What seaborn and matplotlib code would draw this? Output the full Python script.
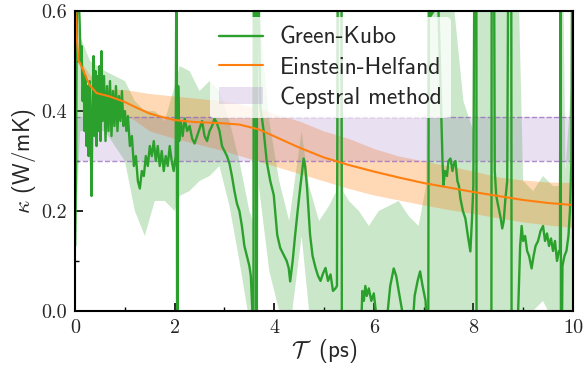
import pandas as pd
import seaborn as sns
import matplotlib.pyplot as plt
from matplotlib.ticker import MultipleLocator

# Green-Kubo running integral (ps, W/mK); +-0.9/-0.3 = off scale
gk_t = [
    0.00, 0.02, 0.035, 0.06, 0.09, 0.11, 0.13, 0.15, 0.17, 0.19,
    0.21, 0.23, 0.25, 0.27, 0.29, 0.31, 0.33, 0.35, 0.37, 0.39,
    0.41, 0.43, 0.45, 0.47, 0.49, 0.51, 0.53, 0.55, 0.58, 0.61,
    0.64, 0.67, 0.70, 0.73, 0.76, 0.79, 0.82, 0.85, 0.88, 0.91,
    0.94, 0.97, 1.00, 1.03, 1.06, 1.10, 1.14, 1.18, 1.22, 1.26,
    1.30, 1.34, 1.38, 1.42, 1.46, 1.50, 1.54, 1.58, 1.62, 1.66,
    1.70, 1.74, 1.78, 1.82, 1.86, 1.90, 1.94, 1.98, 2.02, 2.04,
    2.05, 2.07, 2.09, 2.12, 2.16, 2.20, 2.25, 2.30, 2.35, 2.40,
    2.45, 2.50, 2.55, 2.60, 2.65, 2.70, 2.75, 2.80, 2.85, 2.90,
    2.95, 3.00, 3.05, 3.10, 3.15, 3.20, 3.25, 3.30, 3.35, 3.40,
    3.45, 3.50, 3.53, 3.56, 3.58, 3.59, 3.63, 3.64, 3.66, 3.69,
    3.72, 3.79, 3.85, 3.92, 3.99, 4.06, 4.12, 4.19, 4.25, 4.29,
    4.32, 4.37, 4.42, 4.47, 4.52, 4.59, 4.62, 4.66, 4.72, 4.77,
    4.83, 4.88, 4.93, 4.98, 5.03, 5.08, 5.13, 5.18, 5.23, 5.26,
    5.28, 5.35, 5.36, 5.74, 5.77, 5.80, 5.83, 5.86, 5.90, 5.95,
    6.00, 6.04, 6.07, 6.22, 6.28, 6.33, 6.40, 6.45, 6.50, 6.57,
    6.60, 6.78, 6.82, 6.88, 6.93, 6.98, 7.04, 7.07, 7.09, 7.11,
    7.14, 7.20, 7.24, 7.30, 7.34, 7.38, 7.40, 7.43, 7.47, 7.50,
    7.54, 7.58, 7.61, 7.64, 7.68, 7.71, 7.74, 7.79, 7.84, 7.89,
    7.94, 7.97, 8.00, 8.03, 8.06, 8.065, 8.36, 8.37, 8.41, 8.43,
    8.46, 8.50, 8.55, 8.58, 8.61, 8.64, 8.68, 8.71, 8.76, 8.77,
    8.86, 8.90, 8.94, 8.97, 9.00, 9.04, 9.08, 9.12, 9.17, 9.21,
    9.25, 9.30, 9.35, 9.40, 9.44, 9.48, 9.52, 9.56, 9.60, 9.64,
    9.68, 9.72, 9.74, 9.755, 9.76, 9.79, 9.83, 9.87, 9.91, 9.94,
    9.97, 9.99, 10.0,
]
gk_kappa = [
    0.13, 0.30, 0.62, 0.66, 0.58, 0.50, 0.53, 0.42, 0.48, 0.36,
    0.47, 0.33, 0.45, 0.31, 0.46, 0.36, 0.23, 0.42, 0.51, 0.35,
    0.48, 0.33, 0.47, 0.36, 0.49, 0.34, 0.52, 0.38, 0.47, 0.34,
    0.45, 0.36, 0.46, 0.35, 0.44, 0.37, 0.45, 0.36, 0.43, 0.38,
    0.44, 0.37, 0.40, 0.36, 0.39, 0.33, 0.35, 0.29, 0.31, 0.26,
    0.245, 0.28, 0.27, 0.31, 0.29, 0.33, 0.31, 0.34, 0.30, 0.33,
    0.29, 0.32, 0.28, 0.31, 0.29, 0.33, 0.30, 0.28, 0.31, 0.9,
    -0.3, 0.45, 0.34, 0.38, 0.35, 0.385, 0.36, 0.37, 0.345, 0.335,
    0.35, 0.365, 0.38, 0.35, 0.34, 0.36, 0.37, 0.385, 0.375, 0.36,
    0.33, 0.32, 0.31, 0.295, 0.27, 0.24, 0.215, 0.20, 0.17, 0.13,
    0.11, 0.09, 0.07, 0.0, -0.3, 0.9, 0.9, -0.3, 0.9, 0.62,
    0.41, 0.358, 0.298, 0.26, 0.232, 0.152, 0.126, 0.112, 0.10, 0.086,
    0.059, 0.10, 0.152, 0.20, 0.245, 0.305, 0.29, 0.245, 0.152, 0.11,
    0.086, 0.07, 0.06, 0.075, 0.086, 0.06, 0.073, 0.04, 0.045, 0.05,
    0.9, 0.9, -0.3, -0.05, 0.04, 0.02, 0.05, 0.03, 0.045, 0.02,
    0.035, 0.0, -0.05, -0.05, 0.0, 0.05, 0.085, 0.07, 0.04, 0.0,
    -0.05, -0.03, 0.03, 0.06, 0.079, 0.05, 0.02, -0.05, -0.3, 0.9,
    0.59, 0.60, 0.62, 0.60, 0.45, 0.30, 0.252, 0.28, 0.27, 0.30,
    0.305, 0.28, 0.295, 0.30, 0.26, 0.25, 0.225, 0.20, 0.185, 0.15,
    0.119, 0.179, 0.25, 0.9, 0.9, -0.3, -0.3, 0.9, 0.9, 0.28,
    0.23, 0.21, 0.185, 0.165, 0.18, 0.22, 0.26, 0.9, 0.9, -0.3,
    -0.3, 0.0, 0.13, 0.17, 0.14, 0.15, 0.12, 0.11, 0.085, 0.11,
    0.13, 0.14, 0.16, 0.17, 0.14, 0.155, 0.13, 0.145, 0.12, 0.14,
    0.10, 0.12, 0.12, 0.9, -0.3, 0.09, 0.11, 0.12, 0.15, 0.20,
    0.30, 0.9, 0.9,
]

# Green-Kubo uncertainty band
gk_band_t = [
    0.0, 0.1, 0.3, 0.6, 1.0, 1.2, 1.4, 1.6, 1.8, 2.0,
    2.1, 2.3, 2.5, 2.7, 2.9, 3.1, 3.3, 3.5, 3.57, 3.59,
    3.66, 3.69, 3.9, 4.1, 4.3, 4.55, 4.7, 4.9, 5.1, 5.25,
    5.27, 5.36, 5.38, 5.5, 5.7, 5.9, 6.1, 6.3, 6.5, 6.7,
    6.9, 7.05, 7.1, 7.4, 7.6, 7.8, 8.0, 8.03, 8.2, 8.4,
    8.5, 8.6, 8.7, 8.85, 9.0, 9.2, 9.4, 9.6, 9.72, 9.74,
    9.78, 9.85, 10.0,
]
gk_hi = [
    0.6, 0.55, 0.50, 0.48, 0.46, 0.42, 0.40, 0.40, 0.38, 0.45,
    0.49, 0.48, 0.44, 0.46, 0.44, 0.38, 0.30, 0.20, 0.18, 0.9,
    0.9, 0.6, 0.38, 0.26, 0.18, 0.36, 0.25, 0.18, 0.21, 0.24,
    0.9, 0.9, 0.24, 0.22, 0.20, 0.17, 0.20, 0.21, 0.22, 0.19,
    0.17, 0.25, 0.9, 0.9, 0.62, 0.42, 0.36, 0.9, 0.9, 0.9,
    0.70, 0.60, 0.9, 0.9, 0.26, 0.24, 0.27, 0.25, 0.25, 0.9,
    0.9, 0.28, 0.5,
]
gk_lo = [
    0.13, 0.36, 0.36, 0.36, 0.30, 0.20, 0.15, 0.22, 0.22, 0.20,
    0.23, 0.24, 0.26, 0.27, 0.29, 0.21, 0.10, -0.02, -0.02, -0.3,
    -0.3, 0.25, 0.08, 0.0, -0.05, 0.15, 0.0, -0.05, -0.05, -0.05,
    -0.3, -0.3, -0.05, -0.05, -0.05, 0.0, -0.02, 0.0, -0.03, 0.0,
    -0.02, -0.05, -0.3, -0.1, -0.05, -0.05, -0.05, -0.3, -0.3, -0.3,
    -0.05, -0.05, -0.3, -0.3, -0.02, 0.0, 0.02, -0.02, -0.02, -0.3,
    -0.3, -0.05, -0.1,
]

# Einstein-Helfand estimate and band
eh_t = [0.0, 0.03, 0.07, 0.1, 0.16, 0.29, 0.43, 0.7, 1.0, 1.25,
        1.5, 1.75, 2.0, 2.4, 2.9, 3.3, 3.7, 4.1, 4.5, 5.0,
        5.5, 6.0, 6.5, 7.0, 7.5, 8.0, 8.5, 9.0, 9.5, 10.0]
eh_kappa = [0.62, 0.55, 0.50, 0.495, 0.482, 0.452, 0.436, 0.429, 0.418, 0.406,
            0.395, 0.388, 0.382, 0.378, 0.376, 0.373, 0.363, 0.345, 0.327, 0.307,
            0.292, 0.279, 0.267, 0.256, 0.247, 0.238, 0.230, 0.222, 0.216, 0.212]
eh_band_t = [0.0, 0.1, 0.5, 1.0, 1.5, 2.0, 2.5, 3.0, 3.5, 4.0, 4.5,
             5.0, 5.5, 6.0, 6.5, 7.0, 7.5, 8.0, 8.5, 9.0, 9.5, 10.0]
eh_hi = [0.62, 0.50, 0.445, 0.443, 0.435, 0.43, 0.425, 0.42, 0.41, 0.395, 0.38,
         0.36, 0.345, 0.325, 0.31, 0.30, 0.29, 0.28, 0.268, 0.262, 0.258, 0.257]
eh_lo = [0.62, 0.49, 0.43, 0.395, 0.36, 0.345, 0.333, 0.32, 0.305, 0.29, 0.275,
         0.26, 0.245, 0.232, 0.222, 0.212, 0.203, 0.195, 0.186, 0.178, 0.172, 0.167]

# Cepstral method interval
ceps_lo = 0.300
ceps_hi = 0.388

green = "#2ca02c"
orange = "#ff7f0e"
purple = "#9467bd"

sns.set_style("ticks")
plt.rcParams["font.family"] = ["cmss10", "DejaVu Sans"]
plt.rcParams["mathtext.fontset"] = "cm"
plt.rcParams["axes.unicode_minus"] = False
plt.rcParams["axes.formatter.use_mathtext"] = True

fig, ax = plt.subplots(figsize=(5.87, 3.71), dpi=100)
fig.subplots_adjust(left=0.128, right=0.976, bottom=0.162, top=0.970)

# bands
ax.fill_between(gk_band_t, gk_lo, gk_hi, color=green, alpha=0.25, lw=0)
ax.fill_between(eh_band_t, eh_lo, eh_hi, color=orange, alpha=0.3, lw=0)
ax.axhspan(ceps_lo, ceps_hi, color=purple, alpha=0.2, lw=0, label="Cepstral method")
ax.axhline(ceps_lo, color=purple, ls="--", lw=1, alpha=0.75)
ax.axhline(ceps_hi, color=purple, ls="--", lw=1, alpha=0.75)

gk_df = pd.DataFrame({"t": gk_t, "kappa": gk_kappa})
eh_df = pd.DataFrame({"t": eh_t, "kappa": eh_kappa})
sns.lineplot(data=gk_df, x="t", y="kappa", ax=ax, color=green, lw=1.7,
             sort=False, estimator=None, label="Green-Kubo")
sns.lineplot(data=eh_df, x="t", y="kappa", ax=ax, color=orange, lw=1.5,
             sort=False, estimator=None, label="Einstein-Helfand")

ax.set_xlim(0, 10)
ax.set_ylim(0, 0.6)
ax.set_xticks([0, 2, 4, 6, 8, 10], labels=["0", "2", "4", "6", "8", "10"],
              fontfamily="cmr10", fontsize=14.5)
ax.set_yticks([0, 0.2, 0.4, 0.6], labels=["0.0", "0.2", "0.4", "0.6"],
              fontfamily="cmr10", fontsize=14.5)
ax.xaxis.set_minor_locator(MultipleLocator(1))
ax.yaxis.set_minor_locator(MultipleLocator(0.1))
ax.tick_params(which="both", direction="in", top=False, right=False, color="black")
ax.tick_params(which="major", length=6, width=1.2, pad=6)
ax.tick_params(which="minor", length=3, width=1.0)
for s in ax.spines.values():
    s.set_linewidth(1.5)
    s.set_color("black")

ax.set_xlabel(r"$\mathcal{T}$  (ps)", fontsize=16.5, labelpad=0)
ax.set_ylabel(r"$\kappa$ (W/mK)", fontsize=16.5, labelpad=2)

handles, labels = ax.get_legend_handles_labels()
order = [labels.index(l) for l in ["Green-Kubo", "Einstein-Helfand", "Cepstral method"]]
ax.legend([handles[i] for i in order], [labels[i] for i in order],
          loc="upper left", bbox_to_anchor=(0.27, 0.979), borderaxespad=0,
          fontsize=17, frameon=True, facecolor="white", edgecolor="none",
          framealpha=0.8, handlelength=1.85, handletextpad=0.72, labelspacing=0.33)

fig.savefig("out.png", dpi=100)
